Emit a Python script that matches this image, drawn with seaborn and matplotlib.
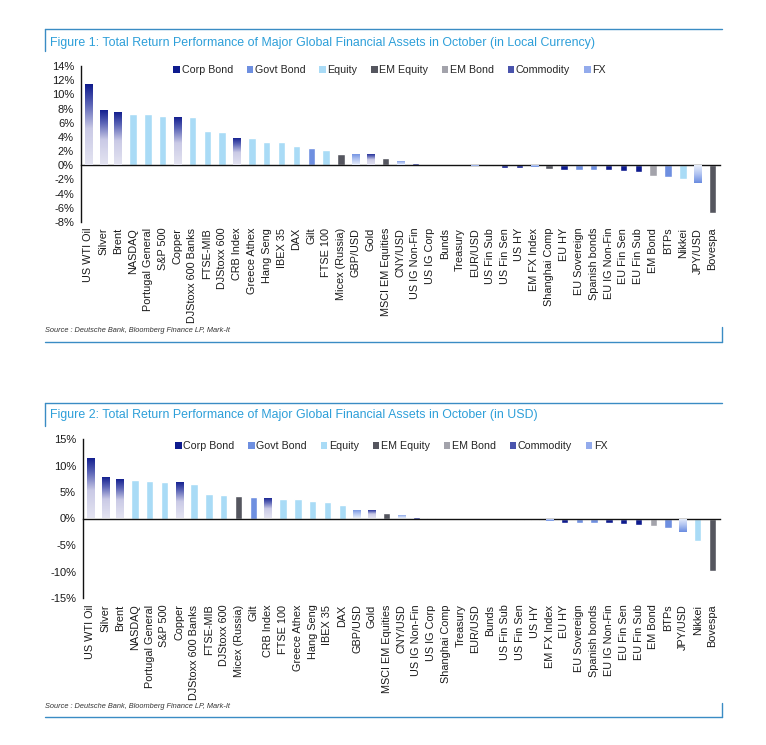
import numpy as np
import matplotlib
matplotlib.use("Agg")
import matplotlib.pyplot as plt
from matplotlib.lines import Line2D
from matplotlib.patches import Patch
from matplotlib.colors import LinearSegmentedColormap
import seaborn as sns

# ---- data ----
local_names = ["US WTI Oil", "Silver", "Brent", "NASDAQ", "Portugal General", "S&P 500", "Copper",
               "DJStoxx 600 Banks", "FTSE-MIB", "DJStoxx 600", "CRB Index", "Greece Athex", "Hang Seng",
               "IBEX 35", "DAX", "Gilt", "FTSE 100", "Micex (Russia)", "GBP/USD", "Gold", "MSCI EM Equities",
               "CNY/USD", "US IG Non-Fin", "US IG Corp", "Bunds", "Treasury", "EUR/USD", "US Fin Sub",
               "US Fin Sen", "US HY", "EM FX Index", "Shanghai Comp", "EU HY", "EU Sovereign", "Spanish bonds",
               "EU IG Non-Fin", "EU Fin Sen", "EU Fin Sub", "EM Bond", "BTPs", "Nikkei", "JPY/USD", "Bovespa"]
local_values = [11.4, 7.8, 7.55, 7.3, 7.25, 7.0, 6.85, 6.8, 4.9, 4.7, 3.85, 3.85, 3.3, 3.3, 2.7, 2.45, 2.1,
                1.6, 1.6, 1.6, 1.0, 0.6, 0.3, 0.03, 0.02, 0.01, -0.1, -0.15, -0.35, -0.35, -0.3, -0.5, -0.7,
                -0.65, -0.65, -0.7, -0.85, -1.0, -1.55, -1.7, -2.0, -2.5, -6.7]

usd_names = ["US WTI Oil", "Silver", "Brent", "NASDAQ", "Portugal General", "S&P 500", "Copper",
             "DJStoxx 600 Banks", "FTSE-MIB", "DJStoxx 600", "Micex (Russia)", "Gilt", "CRB Index", "FTSE 100",
             "Greece Athex", "Hang Seng", "IBEX 35", "DAX", "GBP/USD", "Gold", "MSCI EM Equities", "CNY/USD",
             "US IG Non-Fin", "US IG Corp", "Shanghai Comp", "Treasury", "EUR/USD", "Bunds", "US Fin Sub",
             "US Fin Sen", "US HY", "EM FX Index", "EU HY", "EU Sovereign", "Spanish bonds", "EU IG Non-Fin",
             "EU Fin Sen", "EU Fin Sub", "EM Bond", "BTPs", "JPY/USD", "Nikkei", "Bovespa"]
usd_values = [11.35, 7.75, 7.45, 7.25, 7.05, 6.9, 6.85, 6.5, 4.6, 4.4, 4.2, 4.0, 3.85, 3.65, 3.65, 3.3, 3.1,
              2.5, 1.6, 1.6, 1.0, 0.63, 0.25, 0.03, -0.03, -0.05, -0.1, -0.1, -0.15, -0.2, -0.2, -0.4, -0.8,
              -0.8, -0.8, -0.8, -1.0, -1.2, -1.45, -1.75, -2.5, -4.2, -9.9]

asset_type = {
    "US WTI Oil": "Commodity", "Silver": "Commodity", "Brent": "Commodity", "Copper": "Commodity",
    "CRB Index": "Commodity", "Gold": "Commodity",
    "NASDAQ": "Equity", "Portugal General": "Equity", "S&P 500": "Equity", "DJStoxx 600 Banks": "Equity",
    "FTSE-MIB": "Equity", "DJStoxx 600": "Equity", "Greece Athex": "Equity", "Hang Seng": "Equity",
    "IBEX 35": "Equity", "DAX": "Equity", "FTSE 100": "Equity", "Nikkei": "Equity",
    "Micex (Russia)": "EM Equity", "MSCI EM Equities": "EM Equity", "Shanghai Comp": "EM Equity",
    "Bovespa": "EM Equity",
    "Gilt": "Govt Bond", "Bunds": "Govt Bond", "Treasury": "Govt Bond", "EU Sovereign": "Govt Bond",
    "Spanish bonds": "Govt Bond", "BTPs": "Govt Bond",
    "GBP/USD": "FX", "CNY/USD": "FX", "EUR/USD": "FX", "EM FX Index": "FX", "JPY/USD": "FX",
    "US IG Non-Fin": "Corp Bond", "US IG Corp": "Corp Bond", "US Fin Sub": "Corp Bond",
    "US Fin Sen": "Corp Bond", "US HY": "Corp Bond", "EU HY": "Corp Bond", "EU IG Non-Fin": "Corp Bond",
    "EU Fin Sen": "Corp Bond", "EU Fin Sub": "Corp Bond",
    "EM Bond": "EM Bond",
}

type_order = ["Corp Bond", "Govt Bond", "Equity", "EM Equity", "EM Bond", "Commodity", "FX"]
type_colors = {"Corp Bond": "#0e1b8e", "Govt Bond": "#6e8fe0", "Equity": "#a9dbf6",
               "EM Equity": "#55565f", "EM Bond": "#a3a3ab", "Commodity": "#4a54ad", "FX": "#93abec"}

grad_maps = {
    "Commodity": LinearSegmentedColormap.from_list(
        "comm", [(0, "#e4e4f1"), (0.45, "#cacae6"), (0.75, "#5b64b6"), (1, "#0e1a8c")]),
    "FX": LinearSegmentedColormap.from_list(
        "fx", [(0, "#eaf0fb"), (0.5, "#b0c3f1"), (1, "#6a8ce0")]),
}

title_color = "#2d9fd9"
frame_color = "#3a8cc4"

sns.set_style("white")
plt.rcParams["font.family"] = ["Liberation Sans", "DejaVu Sans"]

W, H = 766, 745
fig = plt.figure(figsize=(W / 100, H / 100), dpi=100)


def fx(px):
    return px / W


def fy(py):
    return 1 - py / H


def frame(top, bottom, left_drop, right_rise):
    # panel border: top rule with a short left stub, bottom rule with a short right stub
    kw = dict(color=frame_color, lw=1.0, transform=fig.transFigure)
    fig.add_artist(Line2D([fx(45), fx(722)], [fy(top), fy(top)], **kw))
    fig.add_artist(Line2D([fx(45), fx(45)], [fy(top), fy(top + left_drop)], **kw))
    fig.add_artist(Line2D([fx(45), fx(722)], [fy(bottom), fy(bottom)], **kw))
    fig.add_artist(Line2D([fx(722), fx(722)], [fy(bottom), fy(bottom - right_rise)], **kw))


def draw_panel(ax, names, values, yticks, pad, legend_x, legend_y):
    types = [asset_type[n] for n in names]
    sns.barplot(x=names, y=values, hue=types, hue_order=type_order, palette=type_colors,
                dodge=False, width=0.5, saturation=1, legend=False, ax=ax, zorder=2)

    # gradient fill for commodity and FX bars (pale at the zero line, strong at the tip)
    grad = np.linspace(0, 1, 256).reshape(-1, 1)
    for p in list(ax.patches):
        h = p.get_height()
        if not np.isfinite(h) or h == 0:
            continue
        i = int(round(p.get_x() + p.get_width() / 2))
        kind = asset_type[names[i]]
        if kind in grad_maps:
            x0 = p.get_x()
            im = ax.imshow(grad, cmap=grad_maps[kind], origin="lower", aspect="auto",
                           extent=(x0, x0 + p.get_width(), p.get_y(), p.get_y() + h), zorder=3)
            im.set_clip_path(p)
            p.set_facecolor("none")
            p.set_edgecolor("none")

    ax.set_xlim(-0.5, len(names) - 0.5)
    ax.set_ylim(yticks[0], yticks[-1])
    ax.set_yticks(yticks)
    ax.set_yticklabels([f"{t}%" for t in yticks])

    ax.spines["top"].set_visible(False)
    ax.spines["right"].set_visible(False)
    ax.spines["bottom"].set_position(("data", 0))
    for s in ["left", "bottom"]:
        ax.spines[s].set_color("#111111")
        ax.spines[s].set_linewidth(1.0)

    ax.set_xticks(range(len(names)))
    ax.set_xticklabels(names)
    ax.set_xticks(np.arange(0.5, len(names)), minor=True)
    ax.tick_params(axis="x", which="major", length=0, pad=pad, labelsize=7.8,
                   labelrotation=90, labelcolor="#1a1a1a")
    ax.tick_params(axis="x", which="minor", length=3, width=0.9, direction="out", color="#111111")
    ax.tick_params(axis="y", length=3, width=0.9, direction="out", labelsize=8,
                   labelcolor="#1a1a1a", color="#111111", pad=2)
    ax.set_xlabel("")
    ax.set_ylabel("")
    ax.grid(False)

    handles = [Patch(facecolor=type_colors[t], edgecolor="none") for t in type_order]
    ax.legend(handles, type_order, loc="upper center", bbox_to_anchor=(legend_x, legend_y), ncol=7,
              frameon=False, fontsize=7.7, handlelength=0.6, handleheight=0.6, handletextpad=0.15,
              columnspacing=1.3, borderaxespad=0, borderpad=0)


# ---- Figure 1 ----
ax1 = fig.add_axes([fx(81), fy(222), fx(720) - fx(81), (222 - 66) / H])
draw_panel(ax1, local_names, local_values, list(range(-8, 15, 2)), pad=45, legend_x=0.483, legend_y=1.005)
fig.text(fx(50), fy(43), "Figure 1: Total Return Performance of Major Global Financial Assets in October "
         "(in Local Currency)", color=title_color, fontsize=8.9, va="center", ha="left")
fig.text(fx(45), fy(331), "Source : Deutsche Bank, Bloomberg Finance LP, Mark-It", fontsize=5.3,
         style="italic", color="#333333", va="center")
frame(29, 342, 22, 15)

# ---- Figure 2 ----
ax2 = fig.add_axes([fx(83), fy(598), fx(720) - fx(83), (598 - 439) / H])
draw_panel(ax2, usd_names, usd_values, list(range(-15, 16, 5)), pad=62, legend_x=0.484, legend_y=0.985)
fig.text(fx(50), fy(415), "Figure 2: Total Return Performance of Major Global Financial Assets in October "
         "(in USD)", color=title_color, fontsize=8.9, va="center", ha="left")
fig.text(fx(45), fy(707), "Source : Deutsche Bank, Bloomberg Finance LP, Mark-It", fontsize=5.3,
         style="italic", color="#333333", va="center")
frame(403, 717, 23, 14)

fig.savefig("out.png", dpi=100, facecolor="white")
